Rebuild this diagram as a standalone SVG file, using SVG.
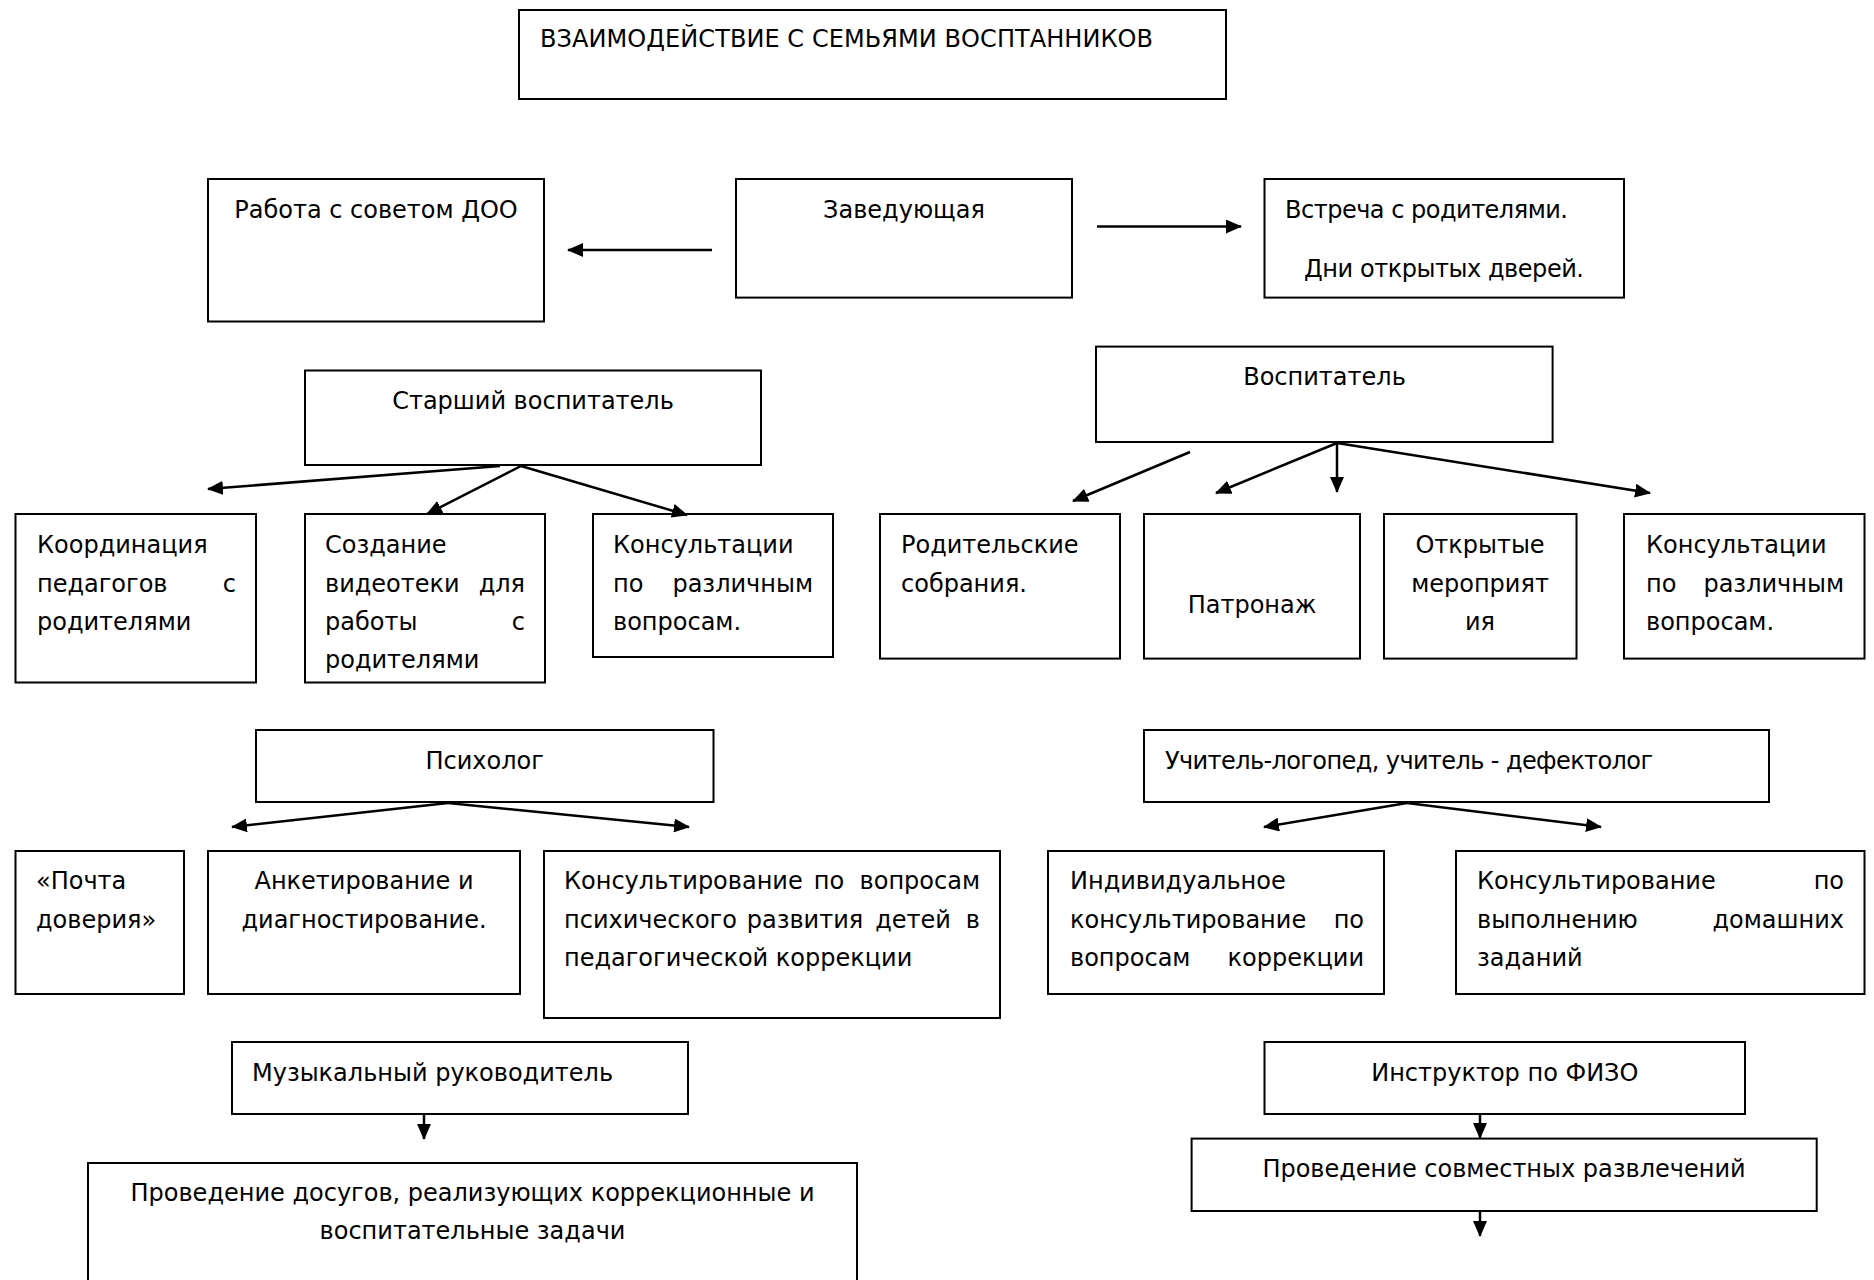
<svg xmlns="http://www.w3.org/2000/svg" width="1874" height="1280" viewBox="0 0 1874 1280">
<style>
.box{fill:#fff;stroke:#000;stroke-width:2}
text{font-family:"DejaVu Sans",sans-serif;font-size:24px;fill:#000}
.c{text-anchor:middle}
.e{text-anchor:end}
#connectors line{stroke:#000;stroke-width:2.5;marker-end:url(#ah)}
</style>
<defs>
<marker id="ah" viewBox="0 0 16 14" refX="15" refY="7" markerWidth="16" markerHeight="14" markerUnits="userSpaceOnUse" orient="auto">
<path d="M0,0 L16,7 L0,14 Z" fill="#000"/>
</marker>
</defs>
<rect width="1874" height="1280" fill="#fff"/>

<g id="title"><rect class="box" x="519" y="10" width="707" height="89"/><text x="540" y="47" textLength="613" lengthAdjust="spacing">ВЗАИМОДЕЙСТВИЕ С СЕМЬЯМИ ВОСПТАННИКОВ</text></g>

<g id="rabota"><rect class="box" x="208" y="179" width="336" height="142.5"/><text class="c" x="376" y="217.5">Работа с советом ДОО</text></g>
<g id="zav"><rect class="box" x="736" y="179" width="336" height="118.6"/><text class="c" x="904" y="217.5">Заведующая</text></g>
<g id="vstrecha"><rect class="box" x="1264.5" y="179" width="359.5" height="118.6"/><text x="1285" y="217.5" textLength="283" lengthAdjust="spacing">Встреча с родителями.</text><text x="1304" y="277.3" textLength="280" lengthAdjust="spacing">Дни открытых дверей.</text></g>

<g id="starshiy"><rect class="box" x="305" y="370.5" width="456" height="94.5"/><text class="c" x="533" y="408.8">Старший воспитатель</text></g>
<g id="vospitatel"><rect class="box" x="1096" y="346.6" width="456.6" height="95.4"/><text class="c" x="1324.5" y="384.9">Воспитатель</text></g>

<g id="koord"><rect class="box" x="15.5" y="514" width="240.5" height="168.5"/>
<text x="37" y="553.4">Координация</text>
<text x="37" y="591.6">педагогов</text><text class="e" x="236" y="591.6">с</text>
<text x="37" y="629.9">родителями</text></g>

<g id="sozdanie"><rect class="box" x="305" y="514" width="240" height="168.5"/>
<text x="325" y="553.4">Создание</text>
<text x="325" y="591.6">видеотеки</text><text class="e" x="525" y="591.6">для</text>
<text x="325" y="629.9">работы</text><text class="e" x="525" y="629.9">с</text>
<text x="325" y="668.1">родителями</text></g>

<g id="konsult1"><rect class="box" x="593" y="514" width="240" height="143"/>
<text x="613" y="553.4">Консультации</text>
<text x="613" y="591.6">по</text><text class="e" x="813" y="591.6">различным</text>
<text x="613" y="629.9">вопросам.</text></g>

<g id="rodit"><rect class="box" x="880" y="514" width="240" height="144.6"/>
<text x="901" y="553.4">Родительские</text>
<text x="901" y="591.6">собрания.</text></g>

<g id="patronazh"><rect class="box" x="1144" y="514" width="216" height="144.6"/>
<text class="c" x="1252" y="613.1">Патронаж</text></g>

<g id="otkrytye"><rect class="box" x="1384" y="514" width="192.5" height="144.6"/>
<text class="c" x="1480" y="553.4">Открытые</text>
<text class="c" x="1480" y="591.6">мероприят</text>
<text class="c" x="1480" y="629.9">ия</text></g>

<g id="konsult2"><rect class="box" x="1624" y="514" width="240.5" height="144.6"/>
<text x="1646" y="553.4">Консультации</text>
<text x="1646" y="591.6">по</text><text class="e" x="1844" y="591.6">различным</text>
<text x="1646" y="629.9">вопросам.</text></g>

<g id="psiholog"><rect class="box" x="256" y="730" width="457.5" height="72"/><text class="c" x="484.7" y="768.5">Психолог</text></g>
<g id="logoped"><rect class="box" x="1144" y="730" width="625" height="72"/><text x="1165" y="768.5" textLength="488" lengthAdjust="spacing">Учитель-логопед, учитель - дефектолог</text></g>

<g id="pochta"><rect class="box" x="15.5" y="851" width="168.5" height="143"/>
<text x="36" y="889.2">«Почта</text>
<text x="36" y="927.5">доверия»</text></g>

<g id="anketa"><rect class="box" x="208" y="851" width="312" height="143"/>
<text class="c" x="364" y="889.2">Анкетирование и</text>
<text class="c" x="364" y="927.5">диагностирование.</text></g>

<g id="konsult_psy"><rect class="box" x="544" y="851" width="456" height="167"/>
<text x="564" y="889.2">Консультирование</text><text class="c" x="829" y="889.2">по</text><text class="e" x="980" y="889.2">вопросам</text>
<text x="564" y="927.5">психического</text><text class="c" x="805" y="927.5">развития</text><text class="c" x="913" y="927.5">детей</text><text class="e" x="980" y="927.5">в</text>
<text x="564" y="965.7">педагогической коррекции</text></g>

<g id="individ"><rect class="box" x="1048" y="851" width="336" height="143"/>
<text x="1070" y="889.2">Индивидуальное</text>
<text x="1070" y="927.5">консультирование</text><text class="e" x="1364" y="927.5">по</text>
<text x="1070" y="965.7">вопросам</text><text class="e" x="1364" y="965.7">коррекции</text></g>

<g id="konsult_dom"><rect class="box" x="1456" y="851" width="408.5" height="143"/>
<text x="1477" y="889.2">Консультирование</text><text class="e" x="1844" y="889.2">по</text>
<text x="1477" y="927.5">выполнению</text><text class="e" x="1844" y="927.5">домашних</text>
<text x="1477" y="965.7">заданий</text></g>

<g id="muz"><rect class="box" x="232" y="1042" width="456" height="72"/><text x="252" y="1080.5">Музыкальный руководитель</text></g>
<g id="dosug"><rect class="box" x="88" y="1163" width="769" height="140"/>
<text class="c" x="472.5" y="1201.2">Проведение досугов, реализующих коррекционные и</text>
<text class="c" x="472.5" y="1239.4">воспитательные задачи</text></g>

<g id="fizo"><rect class="box" x="1264.5" y="1042" width="480.5" height="72"/><text class="c" x="1504.8" y="1080.5">Инструктор по ФИЗО</text></g>
<g id="razvl"><rect class="box" x="1191.6" y="1138.6" width="625.1" height="72.4"/><text class="c" x="1504" y="1177.3">Проведение совместных развлечений</text></g>

<g id="connectors">
<line x1="712" y1="250" x2="568" y2="250"/>
<line x1="1097" y1="226.5" x2="1241" y2="226.5"/>
<line x1="500" y1="466" x2="208" y2="489"/>
<line x1="521" y1="466" x2="427" y2="514"/>
<line x1="521" y1="466" x2="687" y2="515"/>
<line x1="1190" y1="452" x2="1073" y2="501"/>
<line x1="1337" y1="443" x2="1216" y2="493"/>
<line x1="1337" y1="443" x2="1337" y2="492"/>
<line x1="1337" y1="443" x2="1650" y2="493"/>
<line x1="448" y1="803" x2="232" y2="827"/>
<line x1="448" y1="803" x2="689" y2="827"/>
<line x1="1407" y1="803" x2="1264" y2="827"/>
<line x1="1407" y1="803" x2="1601" y2="827"/>
<line x1="424" y1="1115" x2="424" y2="1139"/>
<line x1="1480" y1="1115" x2="1480" y2="1138"/>
<line x1="1480" y1="1212" x2="1480" y2="1236"/>
</g>
</svg>
